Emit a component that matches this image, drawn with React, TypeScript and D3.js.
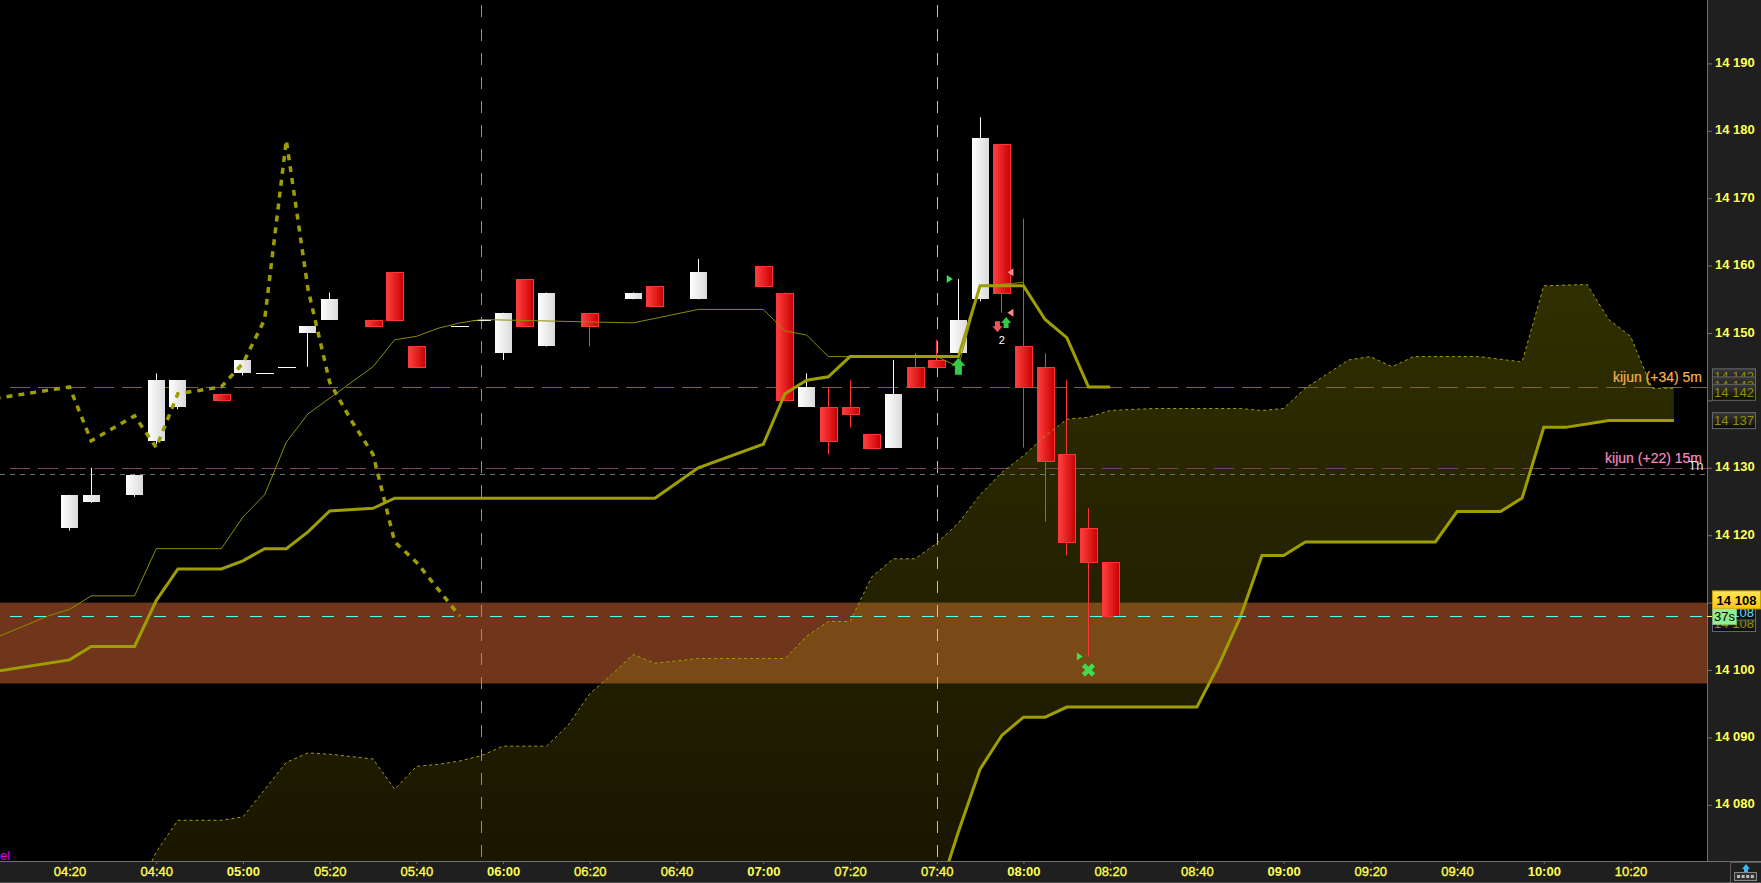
import React, { useRef, useEffect } from "react";
import * as d3 from "d3";

type Pt = [string, number];

const toMin = (s: string) => {
    const [h, m] = s.split(":").map(Number);
    return h * 60 + m;
};

// Candles (5 min)
const candleTimes = ["04:20", "04:25", "04:35", "04:40", "04:45", "04:55", "05:00", "05:05", "05:10", "05:15", "05:20", "05:30", "05:35", "05:40", "05:50", "05:55", "06:00", "06:05", "06:10", "06:20", "06:30", "06:35", "06:45", "07:00", "07:05", "07:10", "07:15", "07:20", "07:25", "07:30", "07:35", "07:40", "07:45", "07:50", "07:55", "08:00", "08:05", "08:10", "08:15", "08:20"];
const opens = [14121, 14125, 14126, 14134, 14139, 14141, 14144, 14144, 14145, 14150, 14152, 14152, 14159, 14148, 14151, 14152, 14147, 14158, 14148, 14153, 14155, 14157, 14155, 14160, 14156, 14139, 14139, 14139, 14135, 14133, 14145, 14146, 14147, 14155, 14178, 14148, 14145, 14132, 14121, 14116];
const closes = [14126, 14126, 14129, 14143, 14143, 14140, 14146, 14144, 14145, 14151, 14155, 14151, 14152, 14145, 14151, 14152, 14153, 14151, 14156, 14151, 14156, 14154, 14159, 14157, 14140, 14142, 14134, 14138, 14133, 14141, 14142, 14145, 14152, 14179, 14156, 14142, 14131, 14119, 14116, 14108];
const highs = [14126, 14130, 14129, 14144, 14143, 14141, 14146, 14144, 14145, 14151, 14156, 14152, 14159, 14148, 14151, 14152, 14153, 14158, 14156, 14153, 14156, 14157, 14161, 14160, 14156, 14144, 14142, 14143, 14135, 14146, 14147, 14149, 14158, 14182, 14178, 14167, 14147, 14143, 14124, 14116];
const lows = [14120.7, 14124.8, 14125.7, 14133.5, 14138.7, 14140, 14143.7, 14144, 14145, 14145, 14152, 14151, 14152, 14145, 14151, 14152, 14146, 14151, 14148, 14148, 14155, 14154, 14155, 14157, 14140, 14139, 14132, 14136, 14133, 14133, 14142, 14145, 14147, 14154.7, 14153, 14133, 14122, 14117, 14102, 14108];

// Ichimoku style lines
const chikouLine: Pt[] = [["04:00", 14140], ["04:20", 14142], ["04:25", 14134], ["04:35", 14137.7], ["04:40", 14133], ["04:45", 14141], ["04:55", 14142], ["05:00", 14145.5], ["05:05", 14152], ["05:10", 14178.6], ["05:15", 14156.5], ["05:20", 14142.7], ["05:25", 14137], ["05:30", 14132], ["05:35", 14119], ["05:40", 14116], ["05:45", 14112], ["05:50", 14108]];
const tenkanLine: Pt[] = [["04:00", 14104], ["04:15", 14108], ["04:20", 14109], ["04:25", 14111], ["04:35", 14111], ["04:40", 14118], ["04:55", 14118], ["05:00", 14122.7], ["05:05", 14126], ["05:10", 14133.8], ["05:15", 14138], ["05:30", 14145], ["05:35", 14149], ["05:40", 14149.5], ["05:45", 14150.7], ["05:50", 14151.5], ["05:55", 14152], ["06:30", 14151.5], ["06:45", 14153.5], ["07:00", 14153.5], ["07:05", 14150.3], ["07:10", 14149.7], ["07:15", 14146.5], ["07:40", 14146.5], ["07:45", 14145], ["07:50", 14157], ["08:00", 14157.5]];
const kijunLine: Pt[] = [["04:00", 14099.5], ["04:20", 14101.5], ["04:25", 14103.5], ["04:35", 14103.5], ["04:40", 14110.3], ["04:45", 14115], ["04:55", 14115], ["05:00", 14116.2], ["05:05", 14118], ["05:10", 14118], ["05:15", 14120.5], ["05:20", 14123.6], ["05:30", 14124], ["05:35", 14125.5], ["06:35", 14125.5], ["06:45", 14130], ["07:00", 14133.5], ["07:05", 14141], ["07:10", 14143], ["07:15", 14143.5], ["07:20", 14146.5], ["07:45", 14146.5], ["07:50", 14157], ["08:00", 14157], ["08:05", 14152], ["08:10", 14149.3], ["08:15", 14142], ["08:20", 14142]];
const cloudUpper: Pt[] = [["04:35", 14066], ["04:40", 14073], ["04:45", 14077.7], ["04:55", 14077.7], ["05:00", 14078.2], ["05:10", 14086.3], ["05:15", 14087.7], ["05:20", 14087.5], ["05:30", 14086.8], ["05:35", 14082.3], ["05:40", 14085.7], ["05:45", 14086], ["05:50", 14086.5], ["05:55", 14087.3], ["06:00", 14088.7], ["06:10", 14088.7], ["06:15", 14091.8], ["06:20", 14096.5], ["06:25", 14099.3], ["06:30", 14102.3], ["06:35", 14101], ["06:45", 14101.7], ["07:05", 14101.7], ["07:10", 14105], ["07:15", 14107.2], ["07:20", 14107.2], ["07:25", 14113.8], ["07:30", 14116.5], ["07:35", 14116.5], ["07:40", 14118.8], ["07:45", 14121.8], ["07:50", 14126], ["07:55", 14129.3], ["08:00", 14131.8], ["08:05", 14134.7], ["08:10", 14137.2], ["08:15", 14137.5], ["08:20", 14138.5], ["08:30", 14138.8], ["08:50", 14138.8], ["08:55", 14138.5], ["09:00", 14138.8], ["09:05", 14141.8], ["09:15", 14146], ["09:20", 14146.5], ["09:25", 14145], ["09:30", 14146.5], ["09:45", 14146.5], ["09:55", 14145.7], ["10:00", 14157], ["10:10", 14157.2], ["10:15", 14152], ["10:20", 14149.5], ["10:25", 14141.8], ["10:30", 14141.8]];
const cloudLower: Pt[] = [["04:35", 14060], ["07:35", 14060], ["07:40", 14066], ["07:45", 14076], ["07:50", 14085.3], ["07:55", 14090.3], ["08:00", 14093], ["08:05", 14093], ["08:10", 14094.5], ["08:40", 14094.5], ["08:45", 14100.7], ["08:50", 14107.8], ["08:55", 14117], ["09:00", 14117], ["09:05", 14119], ["09:35", 14119], ["09:40", 14123.5], ["09:50", 14123.5], ["09:55", 14125.5], ["10:00", 14136], ["10:05", 14136], ["10:15", 14137], ["10:30", 14137]];

// Levels and annotations
const zoneTop = 14110;
const zoneBottom = 14098;
const kijun5m = 14142;
const kijun15m = 14130;
const grayLevel = 14129.1;
const lastPrice = 14108;
const sessionMarks = ["05:55", "07:40"];
const sessionColors = ["#ff45e6", "#f8c040"];
const yTicks = [14080, 14090, 14100, 14110, 14120, 14130, 14140, 14150, 14160, 14170, 14180, 14190];
const yLabelTicks = [14080, 14090, 14100, 14120, 14130, 14150, 14160, 14170, 14180, 14190];
const xTicks = ["04:00", "04:20", "04:40", "05:00", "05:20", "05:40", "06:00", "06:20", "06:40", "07:00", "07:20", "07:40", "08:00", "08:20", "08:40", "09:00", "09:20", "09:40", "10:00", "10:20"];
const grayTags = [14143.5, 14142.3, 14141.2, 14137];
const grayTagLabels = ["14 142", "14 142", "14 142", "14 137"];

const priceFmt = (v: number) => `${Math.floor(v / 1000)} ${String(v % 1000).padStart(3, "0")}`;
const crisp = (v: number) => Math.round(v) + 0.5;

export default function App() {
    const svgRef = useRef<SVGSVGElement>(null);

    useEffect(() => {
        if (!svgRef.current) return;
        const svg = d3.select(svgRef.current);
        svg.selectAll("*").remove();

        const width = 1761;
        const height = 883;
        const plotW = 1707;
        const plotH = 861;
        const font = "'Liberation Sans', Arial, sans-serif";

        const x = d3.scaleLinear().domain([toMin("04:20"), toMin("10:20")]).range([69.5, 1630.5]);
        const y = d3.scaleLinear().domain([14100, 14150]).range([670, 333]);

        const defs = svg.append("defs");
        defs.append("clipPath").attr("id", "plotClip")
            .append("rect").attr("width", plotW).attr("height", plotH);

        const grad = (id: string, stops: [string, string][], vertical = false) => {
            const g = defs.append("linearGradient").attr("id", id)
                .attr("x1", "0%").attr("y1", "0%")
                .attr("x2", vertical ? "0%" : "100%").attr("y2", vertical ? "100%" : "0%");
            stops.forEach(([o, c]) => g.append("stop").attr("offset", o).attr("stop-color", c));
        };
        grad("redBody", [["0%", "#ff4040"], ["100%", "#c80000"]]);
        grad("whiteBody", [["0%", "#ffffff"], ["100%", "#dadada"]]);
        grad("grayTag", [["0%", "#3a3a3a"], ["100%", "#0a0a0a"]], true);
        grad("goldTag", [["0%", "#ffe65a"], ["100%", "#ffc400"]], true);

        const cloudGrad = defs.append("linearGradient").attr("id", "cloudFill")
            .attr("gradientUnits", "userSpaceOnUse")
            .attr("x1", 0).attr("y1", 300).attr("x2", 0).attr("y2", plotH);
        cloudGrad.append("stop").attr("offset", "0%").attr("stop-color", "#a0a000").attr("stop-opacity", 0.29);
        cloudGrad.append("stop").attr("offset", "100%").attr("stop-color", "#a08c00").attr("stop-opacity", 0.16);

        svg.append("rect").attr("width", width).attr("height", height).attr("fill", "#1f1f1f");
        svg.append("rect").attr("width", plotW).attr("height", plotH).attr("fill", "#000");

        const g = svg.append("g").attr("clip-path", "url(#plotClip)");

        // Support zone
        g.append("rect")
            .attr("x", 0).attr("width", plotW)
            .attr("y", y(zoneTop)).attr("height", y(zoneBottom) - y(zoneTop))
            .attr("fill", "#6f361c");

        // Cloud
        const ptLine = d3.line<Pt>().x(d => x(toMin(d[0]))).y(d => y(d[1]));
        g.append("path")
            .attr("d", ptLine([...cloudUpper, ...[...cloudLower].reverse()]) + "Z")
            .attr("fill", "url(#cloudFill)");

        // Vertical session marks
        sessionMarks.forEach((t, i) => {
            g.append("line")
                .attr("x1", crisp(x(toMin(t)))).attr("x2", crisp(x(toMin(t))))
                .attr("y1", 5).attr("y2", plotH)
                .attr("stroke", sessionColors[i])
                .attr("stroke-dasharray", "12,12");
        });

        // Horizontal levels
        const hLine = (v: number, color: string, dash: string, start = 0) => g.append("line")
            .attr("x1", start).attr("x2", plotW)
            .attr("y1", crisp(y(v))).attr("y2", crisp(y(v)))
            .attr("stroke", color).attr("stroke-dasharray", dash);
        hLine(kijun5m, "#7c6630", "20,8", 10);
        hLine(kijun15m, "#7c3f62", "20,8", 10);
        hLine(grayLevel, "#707070", "5,5");

        // Candles
        const bodyW = 17;
        candleTimes.forEach((t, i) => {
            const cx = x(toMin(t));
            const up = closes[i] >= opens[i];
            const top = Math.round(y(Math.max(opens[i], closes[i])));
            const bot = Math.round(y(Math.min(opens[i], closes[i])));
            const left = Math.round(cx - bodyW / 2);
            g.append("line")
                .attr("x1", crisp(cx - 0.5)).attr("x2", crisp(cx - 0.5))
                .attr("y1", y(highs[i])).attr("y2", y(lows[i]))
                .attr("stroke", up ? "#fff" : "#ff3535");
            if (bot - top < 1) {
                g.append("rect").attr("x", left).attr("y", top)
                    .attr("width", bodyW + 1).attr("height", 1).attr("fill", "#fff");
            } else if (up) {
                g.append("rect").attr("x", left).attr("y", top)
                    .attr("width", bodyW).attr("height", bot - top)
                    .attr("fill", "url(#whiteBody)");
            } else {
                g.append("rect").attr("x", left + 0.5).attr("y", top + 0.5)
                    .attr("width", bodyW).attr("height", bot - top)
                    .attr("fill", "url(#redBody)")
                    .attr("stroke", "#ff3535");
            }
        });

        // Cloud edges
        g.append("path").attr("d", ptLine(cloudUpper))
            .attr("fill", "none").attr("stroke", "#a0a000").attr("stroke-dasharray", "3,3");
        g.append("path").attr("d", ptLine(cloudLower))
            .attr("fill", "none").attr("stroke", "#9e9e00").attr("stroke-width", 3);

        // Lines
        g.append("path").attr("d", ptLine(tenkanLine))
            .attr("fill", "none").attr("stroke", "#8c8c00").attr("stroke-width", 1);
        g.append("path").attr("d", ptLine(kijunLine))
            .attr("fill", "none").attr("stroke", "#9e9e00").attr("stroke-width", 3);
        g.append("path").attr("d", ptLine(chikouLine))
            .attr("fill", "none").attr("stroke", "#9e9e00").attr("stroke-width", 3.5).attr("stroke-dasharray", "6,6");

        // Last price line
        hLine(lastPrice, "#55ffff", "12,12", 10);

        // Trade markers
        const arrowUp = "M0,-9L7,-1H3.5V8H-3.5V-1H-7Z";
        const arrowUpSmall = "M0,-6L5,0H2.5V5H-2.5V0H-5Z";
        const arrowDownSmall = "M0,6L5,0H2.5V-5H-2.5V0H-5Z";
        const triRight = "M-3,-4L3,0L-3,4Z";
        const triLeft = "M3,-4L-3,0L3,4Z";
        const cross = d3.symbol().type(d3.symbolCross).size(110)()!;
        const marker = (t: string, v: number, d: string, color: string, rot = 0) => g.append("path")
            .attr("d", d).attr("fill", color)
            .attr("transform", `translate(${x(toMin(t))},${y(v)}) rotate(${rot})`);
        marker("07:43", 14158, triRight, "#3fe050");
        marker("07:57", 14159, triLeft, "#ff8a8a");
        marker("07:57", 14153, triLeft, "#ff8a8a");
        marker("07:45", 14145, arrowUp, "#38c848");
        marker("07:56", 14151.5, arrowUpSmall, "#38c848");
        marker("07:54", 14151, arrowDownSmall, "#f05555");
        marker("08:13", 14102, triRight, "#3fe050");
        marker("08:15", 14100, cross, "#3ddc4a", 45);
        g.append("text")
            .attr("x", x(toMin("07:55"))).attr("y", y(14149))
            .attr("dy", "0.35em").attr("text-anchor", "middle")
            .attr("fill", "#fff").attr("font-family", font).attr("font-size", 11)
            .text("2");

        // Level labels
        const label = (v: number, color: string, txt: string) => g.append("text")
            .attr("x", 1702).attr("y", y(v) - 4.5)
            .attr("text-anchor", "end")
            .attr("fill", color).attr("font-family", font).attr("font-size", 14)
            .attr("stroke", color).attr("stroke-width", 0.2)
            .text(txt);
        label(kijun5m, "#f4b050", "kijun (+34) 5m");
        label(kijun15m, "#f58cc0", "kijun (+22) 15m");
        g.append("text")
            .attr("x", 1696).attr("y", y(kijun15m) + 2)
            .attr("text-anchor", "middle")
            .attr("fill", "#cfe4ee").attr("font-family", font).attr("font-size", 13)
            .text("Th");
        g.append("text")
            .attr("x", 0).attr("y", 860)
            .attr("fill", "#e000e0").attr("font-family", font).attr("font-size", 13)
            .text("el");

        // Panels
        svg.append("line").attr("x1", plotW + 0.5).attr("x2", plotW + 0.5).attr("y1", 0).attr("y2", plotH)
            .attr("stroke", "#707070");
        svg.append("line").attr("x1", 0).attr("x2", width).attr("y1", plotH + 0.5).attr("y2", plotH + 0.5)
            .attr("stroke", "#707070");
        svg.append("line").attr("x1", 0).attr("x2", width).attr("y1", height - 0.5).attr("y2", height - 0.5)
            .attr("stroke", "#505050");

        // X axis
        const xAxis = svg.append("g").attr("transform", `translate(0,${plotH})`)
            .call(d3.axisBottom(x)
                .tickValues(xTicks.map(toMin))
                .tickSize(3)
                .tickFormat((_, i) => xTicks[i]))
            .call(s => s.select(".domain").remove())
            .call(s => s.selectAll(".tick line").attr("stroke", "#707070"));
        xAxis.selectAll<SVGTextElement, number>(".tick text")
            .attr("y", 6).attr("dy", "0.71em")
            .attr("fill", "#ffff55")
            .attr("font-family", font)
            .attr("font-size", 13)
            .attr("font-weight", d => (d % 60 === 0 ? "bold" : "normal"))
            .attr("stroke", "#ffff55")
            .attr("stroke-width", d => (d % 60 === 0 ? 0 : 0.35));

        // Y axis
        const yAxis = svg.append("g").attr("transform", `translate(${plotW},0)`)
            .call(d3.axisRight(y)
                .tickValues(yTicks)
                .tickSize(5)
                .tickFormat(d => (yLabelTicks.includes(+d) ? priceFmt(+d) : "")))
            .call(s => s.select(".domain").remove())
            .call(s => s.selectAll(".tick line").attr("stroke", "#707070"));
        yAxis.selectAll(".tick text")
            .attr("x", 8).attr("y", -1)
            .attr("fill", "#ffff55")
            .attr("font-family", font)
            .attr("font-size", 13)
            .attr("font-weight", "bold");

        // Price tags
        const tag = (v: number, txt: string, fill: string, color: string, stroke: string, w = 43, bold = false, h = 16) => {
            const t = svg.append("g").attr("transform", `translate(1712.5,${y(v)})`);
            t.append("rect").attr("y", -h / 2).attr("width", w).attr("height", h)
                .attr("fill", fill).attr("stroke", stroke);
            t.append("text").attr("x", w / 2).attr("dy", "0.36em")
                .attr("text-anchor", "middle")
                .attr("fill", color).attr("font-family", font).attr("font-size", 13)
                .attr("font-weight", bold ? "bold" : "normal")
                .text(txt);
        };
        grayTags.forEach((v, i) => tag(v, grayTagLabels[i], "url(#grayTag)", "#8f8f00", "#666"));

        // Last price tick and tag stack
        svg.append("line").attr("x1", plotW).attr("x2", plotW + 5)
            .attr("y1", crisp(y(lastPrice))).attr("y2", crisp(y(lastPrice))).attr("stroke", "#ffff55");
        tag(lastPrice - 1.1, priceFmt(lastPrice), "url(#grayTag)", "#8f8f00", "#666");
        tag(lastPrice + 0.6, priceFmt(lastPrice), "#101010", "#55ddff", "#666");
        tag(lastPrice + 2.4, priceFmt(lastPrice), "url(#goldTag)", "#000", "#c9a000", 48, true, 18);
        tag(lastPrice - 0.1, "37s", "#90ee90", "#000", "none", 24);

        // Corner icon
        const icon = svg.append("g");
        icon.append("path").attr("d", `M1730.5,${height}V${plotH + 1.5}H${width}`)
            .attr("fill", "none").attr("stroke", "#5a5a5a");
        icon.append("path").attr("d", "M1746,864L1750,869H1748V873H1744V869H1742Z").attr("fill", "#3db8f5");
        icon.append("rect").attr("x", 1734.5).attr("y", 872.5).attr("width", 22).attr("height", 8)
            .attr("fill", "#333").attr("stroke", "#888");
        d3.range(4).forEach(i => {
            icon.append("rect").attr("x", 1737 + i * 4.6).attr("y", 875).attr("width", 3).attr("height", 3).attr("fill", "#bbb");
        });
    }, []);

    return <svg ref={svgRef} width={1761} height={883} style={{ position: "fixed", left: 0, top: 0 }} />;
}
